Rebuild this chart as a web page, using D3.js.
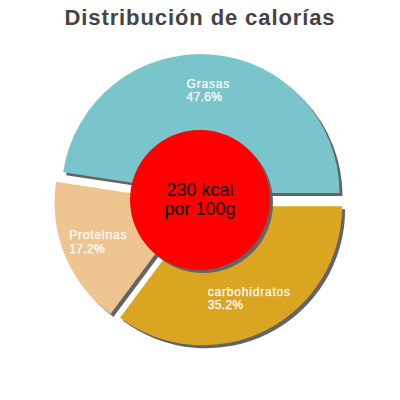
<!DOCTYPE html>
<html>
<head>
<meta charset="utf-8">
<script src="https://cdn.jsdelivr.net/npm/d3@7"></script>
<style>
  body { margin: 0; background: #fff; }
  svg { display: block; font-family: "Liberation Sans", Arial, sans-serif; }
</style>
</head>
<body>
<div id="chart"></div>
<script>
// data
const categories = ['Grasas', 'carbohidratos', 'Proteinas'];
const percents = [47.6, 35.2, 17.2];
const colors = ['#7ac4cc', '#daa520', '#eec591'];
const centerLines = ['230 kcal', 'por 100g'];
const title = 'Distribución de calorías';

const width = 400;
const height = 400;
const cx = 200, cy = 200;
const radius = 139;
const explode = 7;
const innerCircle = 70;

const svg = d3.select('#chart')
    .append('svg')
    .attr('width', width)
    .attr('height', height);

svg.append('text')
    .attr('x', width / 2)
    .attr('y', 25)
    .attr('text-anchor', 'middle')
    .style('font-size', '22px')
    .style('font-weight', 'bold')
    .style('letter-spacing', '0.9px')
    .attr('fill', '#444')
    .text(title);

const data = categories.map((c, i) => ({ name: c, value: percents[i], color: colors[i] }));

// first slice ends at 3 o'clock
const start = Math.PI / 2 - 2 * Math.PI * percents[0] / d3.sum(percents);
const pie = d3.pie()
    .sort(null)
    .value((d) => d.value)
    .startAngle(start)
    .endAngle(start + 2 * Math.PI);

const arc = d3.arc().innerRadius(0).outerRadius(radius);

const g = svg.append('g').attr('transform', `translate(${cx},${cy})`);

const slices = g.selectAll('g.slice')
    .data(pie(data))
    .enter()
    .append('g')
    .attr('class', 'slice')
    .attr('transform', (d) => {
        const mid = (d.startAngle + d.endAngle) / 2;
        return `translate(${Math.sin(mid) * explode},${-Math.cos(mid) * explode})`;
    });

// shadow
slices.append('path')
    .attr('d', arc)
    .attr('transform', 'translate(3,3)')
    .attr('fill', '#646464');

slices.append('path')
    .attr('d', arc)
    .attr('fill', (d) => d.data.color);

// labels: two left-aligned lines, block centred on the slice
const labelR = 103;
slices.each(function (d) {
    const mid = (d.startAngle + d.endAngle) / 2;
    const px = Math.sin(mid) * labelR;
    const py = -Math.cos(mid) * labelR;
    const sel = d3.select(this);
    const t1 = sel.append('text')
        .attr('y', py - 2.5)
        .attr('fill', '#fff')
        .attr('stroke', '#fff')
        .attr('stroke-width', 0.25)
        .style('font-size', '12px')
        .style('letter-spacing', '0.8px')
        .text(d.data.name);
    const t2 = sel.append('text')
        .attr('y', py + 11)
        .attr('fill', '#fff')
        .attr('stroke', '#fff')
        .attr('stroke-width', 0.25)
        .style('font-size', '12px')
        .style('letter-spacing', '0.35px')
        .text(d.data.value.toFixed(1) + '%');
    const w = Math.max(t1.node().getComputedTextLength(), t2.node().getComputedTextLength());
    t1.attr('x', px - w / 2);
    t2.attr('x', px - w / 2);
});

// center circle
g.append('circle')
    .attr('cx', 3)
    .attr('cy', 3)
    .attr('r', innerCircle)
    .attr('fill', '#646464');

g.append('circle')
    .attr('r', innerCircle)
    .attr('fill', '#ff0000');

g.selectAll('text.center')
    .data(centerLines)
    .enter()
    .append('text')
    .attr('class', 'center')
    .attr('text-anchor', 'middle')
    .attr('y', (d, i) => -4 + i * 19)
    .style('font-size', '18px')
    .attr('fill', '#000')
    .text((d) => d);
</script>
</body>
</html>
